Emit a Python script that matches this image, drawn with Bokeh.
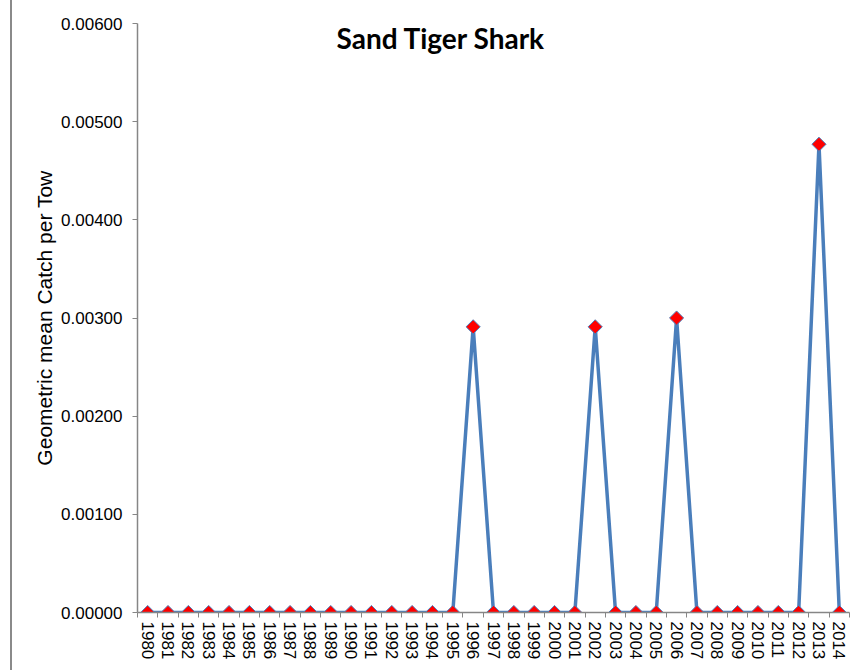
from bokeh.plotting import figure
from bokeh.models import Range1d, FixedTicker, PrintfTickFormatter, Label, ColumnDataSource
from bokeh.embed import file_html
from bokeh.resources import INLINE
import numpy as np

years = list(range(1980, 2015))
cpue = [0.0] * len(years)
peaks = {1996: 0.00291, 2002: 0.00291, 2006: 0.00300, 2013: 0.00477}
for yr, v in peaks.items():
    cpue[years.index(yr)] = v
y_ticks = [0.000, 0.001, 0.002, 0.003, 0.004, 0.005, 0.006]
title_text = "Sand Tiger Shark"
y_label = "Geometric mean Catch per Tow"

src = ColumnDataSource(dict(year=years, cpue=cpue))

p = figure(width=844, height=670, output_backend="svg", toolbar_location=None,
           x_range=Range1d(years[0] - 0.5, years[-1] + 0.5), y_range=Range1d(0, 0.006),
           min_border_left=125, min_border_right=7, min_border_top=23, min_border_bottom=58)
p.styles = {"border-left": "2px solid #8a8a8a", "margin-left": "10px"}
p.outline_line_color = None
p.xgrid.visible = False
p.ygrid.visible = False
p.background_fill_color = "white"
p.border_fill_color = "white"

axis_gray = "#868686"

# x axis
p.xaxis.ticker = FixedTicker(ticks=years, minor_ticks=[y - 0.5 for y in years] + [years[-1] + 0.5])
p.xaxis.major_label_overrides = {y: str(y) for y in years}
p.xaxis.major_label_orientation = "vertical"
p.xaxis.major_tick_in = 0
p.xaxis.major_tick_out = 0
p.xaxis.minor_tick_in = 0
p.xaxis.minor_tick_out = 5
p.xaxis.minor_tick_line_color = axis_gray
p.xaxis.axis_line_color = axis_gray
p.xaxis.axis_line_width = 1.5
p.xaxis.major_label_text_font = "Liberation Sans"
p.xaxis.major_label_text_font_size = "17px"
p.xaxis.major_label_text_color = "black"
p.xaxis.major_label_standoff = 4

# y axis
p.yaxis.ticker = FixedTicker(ticks=y_ticks)
p.yaxis.formatter = PrintfTickFormatter(format="%.5f")
p.yaxis.major_tick_in = 0
p.yaxis.major_tick_out = 5
p.yaxis.minor_tick_line_color = None
p.yaxis.major_tick_line_color = axis_gray
p.yaxis.axis_line_color = axis_gray
p.yaxis.axis_line_width = 1.5
p.yaxis.major_label_text_font = "Liberation Sans"
p.yaxis.major_label_text_font_size = "17px"
p.yaxis.major_label_text_color = "black"
p.yaxis.major_label_standoff = 10
p.yaxis.axis_label = y_label
p.yaxis.axis_label_text_font = "Liberation Sans"
p.yaxis.axis_label_text_font_size = "21px"
p.yaxis.axis_label_text_font_style = "normal"
p.yaxis.axis_label_text_color = "black"
p.yaxis.axis_label_standoff = 2

p.line("year", "cpue", source=src, line_color="#4A7EBB", line_width=3.5)
p.scatter("year", "cpue", source=src, marker="square", angle=np.pi / 4, size=10,
          fill_color="#FF0000", line_color="#4F81BD", line_width=1)

p.add_layout(Label(x=1994.42, y=0.005857, text=title_text, text_align="center",
                   text_baseline="middle", text_font="Lato", text_font_style="bold",
                   text_font_size="28px", text_color="black"))

open("out.html", "w").write(file_html(p, INLINE))
